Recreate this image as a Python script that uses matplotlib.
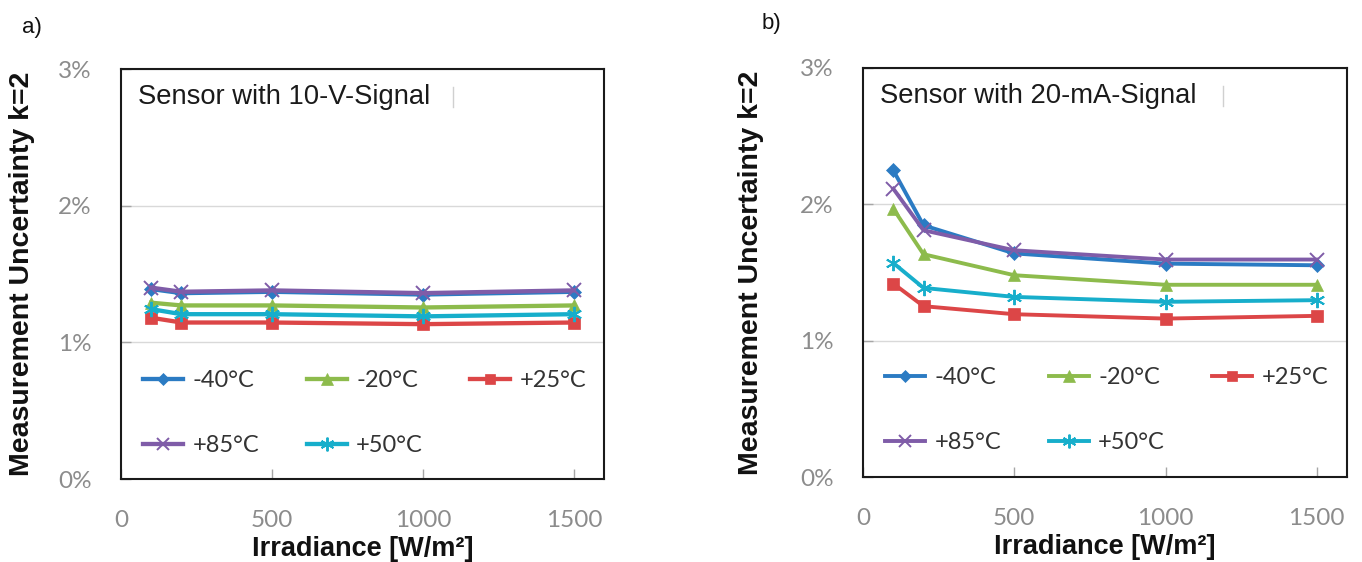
import matplotlib
matplotlib.use("Agg")
import matplotlib.pyplot as plt
from matplotlib.ticker import FuncFormatter, FixedLocator
from matplotlib.lines import Line2D

# ---------------- data ----------------
irradiance = [100, 200, 500, 1000, 1500]
series_labels = ["-40°C", "-20°C", "+25°C", "+85°C", "+50°C"]

# panel a) Sensor with 10-V-Signal  (uncertainty in %)
a_m40 = [1.39, 1.36, 1.37, 1.35, 1.37]
a_m20 = [1.29, 1.27, 1.27, 1.255, 1.27]
a_p25 = [1.18, 1.145, 1.145, 1.133, 1.145]
a_p85 = [1.40, 1.37, 1.38, 1.36, 1.38]
a_p50 = [1.243, 1.206, 1.206, 1.19, 1.206]

# panel b) Sensor with 20-mA-Signal
b_m40 = [2.25, 1.846, 1.64, 1.565, 1.553]
b_m20 = [1.968, 1.634, 1.48, 1.41, 1.41]
b_p25 = [1.419, 1.253, 1.194, 1.162, 1.182]
b_p85 = [2.115, 1.81, 1.663, 1.595, 1.595]
b_p50 = [1.57, 1.387, 1.321, 1.285, 1.297]

x_ticks = [0, 500, 1000, 1500]
y_ticks = [0, 1, 2, 3]
panel_titles = ["Sensor with 10-V-Signal", "Sensor with 20-mA-Signal"]
panel_tags = ["a)", "b)"]

# ---------------- styles ----------------
colors = {"-40°C": "#2B7BC3", "-20°C": "#8DBB4C", "+25°C": "#DC4647",
          "+85°C": "#7F5CA8", "+50°C": "#17AECB"}
markers = {"-40°C": "D", "-20°C": "^", "+25°C": "s", "+85°C": "x", "+50°C": (6, 2, 0)}
msizes = {"-40°C": 7, "-20°C": 9, "+25°C": 8.5, "+85°C": 10, "+50°C": 11}

TICK_FONT = "Lato"
LABEL_FONT = "Liberation Sans"

fig = plt.figure(figsize=(13.62, 5.62), dpi=100)
ax_a = fig.add_axes([121/1362, 1-479/562, (604-121)/1362, (479-69)/562])
ax_b = fig.add_axes([863/1362, 1-477/562, (1347-863)/1362, (477-68)/562])

panels = [
    (ax_a, [a_m40, a_m20, a_p25, a_p85, a_p50], (35-121)/483, (453-121)/483, 0.161, 3.1),
    (ax_b, [b_m40, b_m20, b_p25, b_p85, b_p50], (764-863)/484, (1223-863)/484, 0.163, 2.8),
]

for i, (ax, data, ylab_x, cursor_x, leg_y, lw) in enumerate(panels):
    handles = {}
    for lab, vals in zip(series_labels, data):
        mk = markers[lab]
        h, = ax.plot(irradiance, vals, color=colors[lab], lw=lw, marker=mk,
                     ms=msizes[lab], mew=1.4 if mk in ("x", (6, 2, 0)) else 0.5,
                     mec=colors[lab], mfc=colors[lab], label=lab, solid_joinstyle="round")
        handles[lab] = h
    ax.set_xlim(0, 1600)
    ax.set_ylim(0, 3)
    ax.xaxis.set_major_locator(FixedLocator(x_ticks))
    ax.yaxis.set_major_locator(FixedLocator(y_ticks))
    ax.yaxis.set_major_formatter(FuncFormatter(lambda v, p: f"{v:.0f}%"))
    ax.grid(axis="y", color="#D9D9D9", lw=1.0)
    ax.set_axisbelow(True)
    for sp in ax.spines.values():
        sp.set_color("#1a1a1a")
        sp.set_linewidth(1.5)
    ax.tick_params(axis="both", direction="in", length=7, width=1, color="#A6A6A6",
                   labelsize=17.5, labelcolor="#8C8C8C")
    ax.tick_params(axis="y", pad=21)
    ax.tick_params(axis="x", pad=22)
    for t in ax.get_xticklabels() + ax.get_yticklabels():
        t.set_fontfamily(TICK_FONT)

    ax.set_xlabel("Irradiance [W/m²]", fontsize=19.5, fontweight="bold",
                  fontfamily=LABEL_FONT, color="#111111")
    ax.xaxis.set_label_coords(0.5, -0.14)
    ax.set_ylabel("Measurement Uncertainty k=2", fontsize=20.5, fontweight="bold",
                  fontfamily=LABEL_FONT, color="#111111")
    ax.yaxis.set_label_coords(ylab_x, 0.5)

    ax.text(0.035, 0.932, panel_titles[i], transform=ax.transAxes, fontsize=19.7,
            fontfamily=LABEL_FONT, color="#1a1a1a", va="center", ha="left")
    ax.add_line(Line2D([cursor_x, cursor_x], [0.907, 0.955], transform=ax.transAxes,
                       color="#D0D0D0", lw=1))

    order = ["-40°C", "+85°C", "-20°C", "+50°C", "+25°C"]
    leg = ax.legend([handles[k] for k in order], order, ncol=3, loc="center left",
                    bbox_to_anchor=(0.0455, leg_y), frameon=False, borderpad=0,
                    borderaxespad=0, handlelength=1.7, handletextpad=0.4,
                    columnspacing=2.0, labelspacing=1.85,
                    prop={"family": TICK_FONT, "size": 17})
    for t in leg.get_texts():
        t.set_color("#333333")
    for lh in leg.legend_handles:
        lh.set_markersize(lh.get_markersize() * 0.9)

fig.text(22/1362, 1-27/562, panel_tags[0], fontsize=16, fontfamily=LABEL_FONT,
         va="center", ha="left", color="#111111")
fig.text(762/1362, 1-23/562, panel_tags[1], fontsize=16, fontfamily=LABEL_FONT,
         va="center", ha="left", color="#111111")

fig.savefig("out.png", dpi=100)
